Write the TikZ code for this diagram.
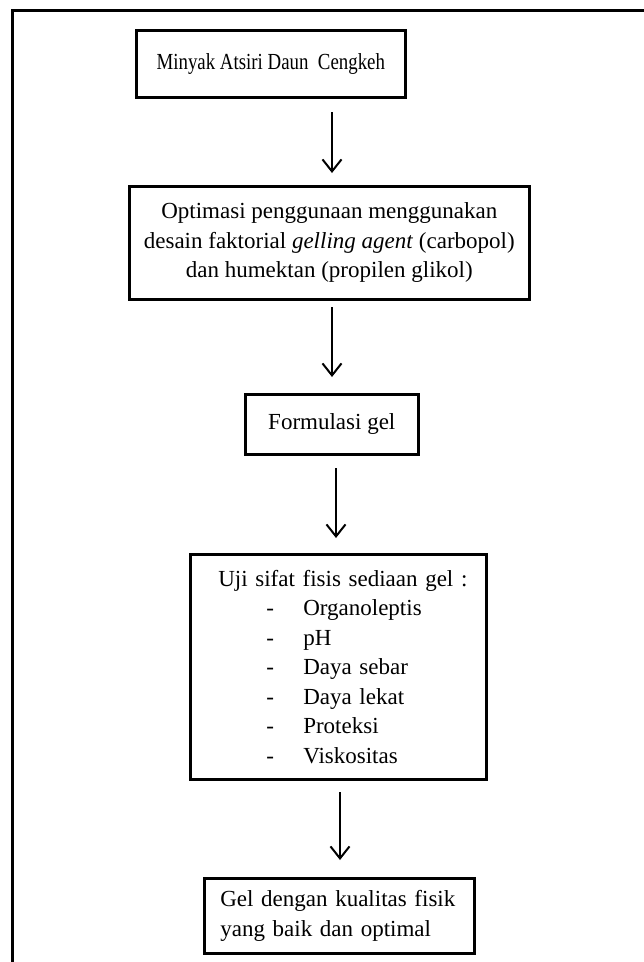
\documentclass[tikz,border=0pt]{standalone}
\usepackage{fontspec}
\setmainfont{Liberation Serif}
\usetikzlibrary{arrows.meta}
\begin{document}
\begin{tikzpicture}[x=1pt,y=-1pt,
  box/.style={draw=black, line width=2.6pt, inner sep=0pt, anchor=north west,
    font=\fontsize{23}{29.5}\selectfont, align=center},
  flow/.style={line width=2pt, -{Straight Barb[length=12pt,width=19pt,line width=2pt]}},
  frameline/.style={line width=3pt}]
\useasboundingbox (0,0) rectangle (644,962);
% outer frame (only left and top edges visible)
\coordinate (fbl) at (12,962);
\coordinate (ftl) at (12,10);
\coordinate (ftr) at (644,10);
\draw[frameline] (fbl) -- (ftl) -- (ftr);

\node[box, minimum width=269pt, minimum height=67pt] (b1) at (135,29)
  {\scalebox{0.82}[1]{Minyak Atsiri Daun\ \ Cengkeh}};
\node[box, minimum width=400pt, minimum height=113pt] (b2) at (128,185)
  {Optimasi penggunaan menggunakan\\ desain faktorial \textit{gelling agent} (carbopol)\\ dan humektan (propilen glikol)};
\node[box, minimum width=173pt, minimum height=60pt] (b3) at (244,393)
  {Formulasi gel};
\node[box, minimum width=296pt, minimum height=225pt, align=left, text width=240pt, inner xsep=28pt] (b4) at (189,553)
  {\mbox{Uji sifat fisis sediaan gel :}\\
   \hspace*{48pt}\makebox[37pt][l]{-}Organoleptis\\
   \hspace*{48pt}\makebox[37pt][l]{-}pH\\
   \hspace*{48pt}\makebox[37pt][l]{-}Daya sebar\\
   \hspace*{48pt}\makebox[37pt][l]{-}Daya lekat\\
   \hspace*{48pt}\makebox[37pt][l]{-}Proteksi\\
   \hspace*{48pt}\makebox[37pt][l]{-}Viskositas};
\node[box, minimum width=270pt, minimum height=75pt, align=left, text width=238pt, inner xsep=16pt] (b5) at (203,877)
  {\mbox{Gel dengan kualitas fisik}\\ \mbox{yang baik dan optimal}};

\coordinate (a1s) at (332,112); \coordinate (a1e) at (332,173);
\coordinate (a2s) at (332,307); \coordinate (a2e) at (332,377);
\coordinate (a3s) at (336,468); \coordinate (a3e) at (336,538);
\coordinate (a4s) at (340,792); \coordinate (a4e) at (340,860);
\draw[flow] (a1s) -- (a1e);
\draw[flow] (a2s) -- (a2e);
\draw[flow] (a3s) -- (a3e);
\draw[flow] (a4s) -- (a4e);
\end{tikzpicture}
\end{document}
